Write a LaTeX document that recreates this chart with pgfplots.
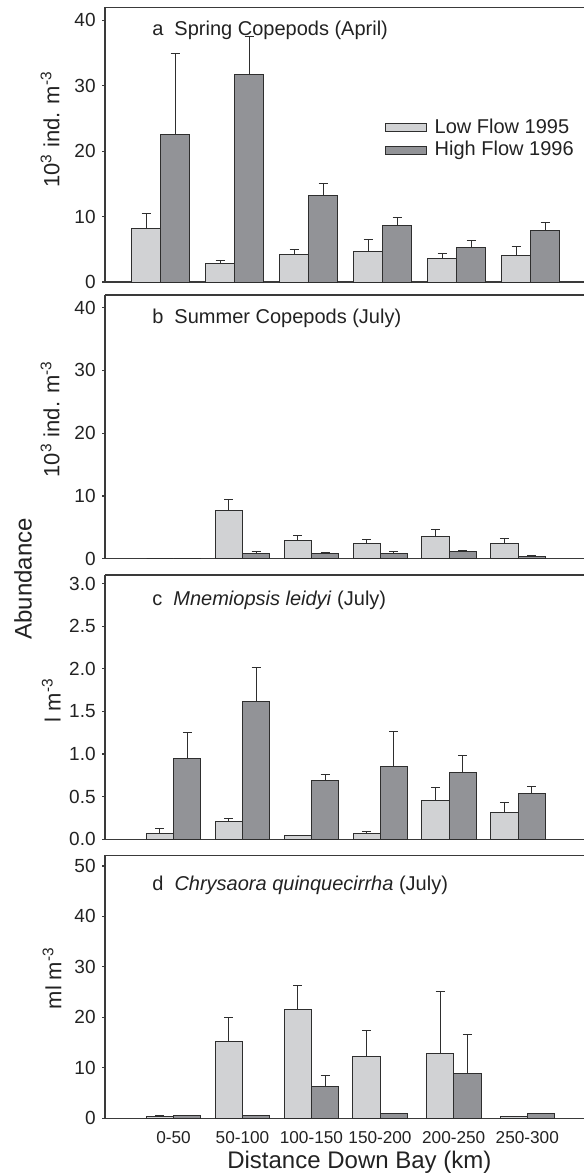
\documentclass[border=0pt]{standalone}
\usepackage{fontspec}
\setmainfont{Liberation Sans}
\usepackage{pgfplots}
\pgfplotsset{compat=1.18}
\usepackage{pgfplotstable}

\definecolor{lightbar}{HTML}{D1D2D4}
\definecolor{darkbar}{HTML}{929397}
\definecolor{edgecol}{HTML}{2E2E2E}
\definecolor{axiscol}{HTML}{3A3A3A}
\definecolor{txt}{HTML}{222222}

% x = position of the boundary between the two bars of a group (in picture pixels)
\pgfplotstableread{
x low lowe high highe
160.7 8.15 2.25 22.5 12.5
234.7 2.8 0.46 31.8 5.8
308.7 4.28 0.72 13.26 1.84
382.7 4.64 1.86 8.67 1.16
456.7 3.52 0.81 5.2 1.1
530.7 4.08 1.32 7.95 1.18
}\tabA
\pgfplotstableread{
x low lowe high highe
173.6 0 0 0 0
242.5 7.7 1.75 0.75 0.32
311.4 2.97 0.75 0.85 0.11
380.3 2.44 0.64 0.85 0.22
449.2 3.56 1.06 1.07 0.26
518.1 2.44 0.8 0.38 0.1
}\tabB
\pgfplotstableread{
x low lowe high highe
173.6 0.07 0.055 0.946 0.302
242.5 0.207 0.039 1.615 0.395
311.4 0.043 0.007 0.692 0.066
380.3 0.07 0.027 0.857 0.403
449.2 0.453 0.157 0.78 0.2
518.1 0.312 0.114 0.535 0.079
}\tabC
\pgfplotstableread{
x low lowe high highe
173.6 0.3 0.3 0.5 0
242.5 15.26 4.64 0.5 0
311.4 21.5 4.8 6.27 2.18
380.0 12.2 5.1 0.9 0
453.7 12.8 12.3 8.78 7.87
527.3 0.45 0 0.9 0
}\tabD

\pgfplotsset{
  panel/.style={
    scale only axis, width=239.5pt,
    xmin=105, xmax=584, ymin=0,
    axis lines=left,
    axis line style={-, line width=0.75pt, axiscol},
    tick align=outside, major tick length=1.5pt,
    tick style={line width=0.6pt, axiscol},
    xtick=\empty,
    /pgf/number format/assume math mode=true,
    yticklabel style={font=\fontsize{9.5}{11}\selectfont, text=txt, inner sep=0pt, xshift=-3pt},
    xticklabel style={font=\fontsize{8.6}{10}\selectfont, text=txt},
    ybar, bar shift=0pt, clip=false,
    after end axis/.code={\draw[line width=0.75pt, axiscol] (rel axis cs:0,1) -- (rel axis cs:1,1);},
  },
  ylab/.style={every axis y label/.style={at={(axis description cs:#1)}, rotate=90, anchor=base,
    font=\fontsize{11}{13}\selectfont, text=txt}},
  errs/.style={error bars/.cd, y dir=plus, y explicit,
    error bar style={line width=0.5pt, edgecol},
    error mark options={rotate=90, line width=0.5pt, mark size=2.25pt, edgecol}},
  lowbar/.style={fill=lightbar, draw=edgecol, line width=0.5pt, errs},
  highbar/.style={fill=darkbar, draw=edgecol, line width=0.5pt, errs},
}

\begin{document}
\begin{tikzpicture}
\path[use as bounding box] (0pt,0pt) rectangle (292pt,-588pt);

% ---------- a ----------
\begin{axis}[panel, at={(52.5pt,-141pt)}, anchor=south west, height=137.35pt,
  ymax=42, ytick={0,10,20,30,40}, bar width=29,
  ylab={-0.0952,0.555},
  ylabel={10\textsuperscript{3} ind. m\textsuperscript{-3}},
  legend cell align=left,
  legend image code/.code={\draw[#1] (0pt,-2pt) rectangle (20.7pt,2pt);},
  legend style={draw=none, fill=none, at={(axis cs:384.3,25.0)}, anchor=north west,
    inner sep=0pt, row sep=2.1pt, column sep=3.8pt,
    nodes={inner sep=0pt, text height=7.2pt, text depth=1.9pt},
    font=\fontsize{10}{12}\selectfont, text=txt},
]
\addplot[lowbar] table[x expr=\thisrow{x}-14.5, y=low, y error=lowe]{\tabA};
\addlegendentry{Low Flow 1995}
\addplot[highbar] table[x expr=\thisrow{x}+14.5, y=high, y error=highe]{\tabA};
\addlegendentry{High Flow 1996}
\node[anchor=base west, inner sep=0pt, font=\fontsize{10}{12}\selectfont, text=txt]
  at (rel axis cs:0.0981,0.898) {a\hspace{0.55em}Spring Copepods (April)};
\end{axis}

% ---------- b ----------
\begin{axis}[panel, at={(52.5pt,-279.35pt)}, anchor=south west, height=131.85pt,
  ymax=42, ytick={0,10,20,30,40}, bar width=27.3,
  ylab={-0.0952,0.53},
  ylabel={10\textsuperscript{3} ind. m\textsuperscript{-3}},
]
\addplot[lowbar] table[x expr=\thisrow{x}-13.65, y=low, y error=lowe]{\tabB};
\addplot[highbar] table[x expr=\thisrow{x}+13.65, y=high, y error=highe]{\tabB};
\node[anchor=base west, inner sep=0pt, font=\fontsize{10}{12}\selectfont, text=txt]
  at (rel axis cs:0.0981,0.893) {b\hspace{0.55em}Summer Copepods (July)};
\end{axis}

% ---------- c ----------
\begin{axis}[panel, at={(52.5pt,-419.65pt)}, anchor=south west, height=132.15pt,
  ymax=3.1, ytick={0,0.5,1,1.5,2,2.5,3}, bar width=27.3,
  yticklabel style={/pgf/number format/.cd, fixed, fixed zerofill, precision=1},
  ylab={-0.0925,0.527},
  ylabel={l m\textsuperscript{-3}},
]
\addplot[lowbar] table[x expr=\thisrow{x}-13.65, y=low, y error=lowe]{\tabC};
\addplot[highbar] table[x expr=\thisrow{x}+13.65, y=high, y error=highe]{\tabC};
\node[anchor=base west, inner sep=0pt, font=\fontsize{10}{12}\selectfont, text=txt]
  at (rel axis cs:0.0981,0.883) {c\hspace{0.55em}\textit{Mnemiopsis leidyi} (July)};
\end{axis}

% ---------- d ----------
\begin{axis}[panel, at={(52.5pt,-559.15pt)}, anchor=south west, height=131.5pt,
  ymax=52.1, ytick={0,10,20,30,40,50}, bar width=27.3,
  ylab={-0.091,0.533},
  ylabel={ml m\textsuperscript{-3}},
  xtick={173.6,242.5,311.4,380.0,453.7,527.3},
  xticklabels={0-50,50-100,100-150,150-200,200-250,250-300},
  xtick style={draw=none},
  xticklabel style={anchor=base, inner sep=0pt, yshift=-11.2pt},
  xlabel={Distance Down Bay (km)},
  xlabel style={at={(axis description cs:0.531,0)}, anchor=base, yshift=-25pt,
    font=\fontsize{12}{14}\selectfont, text=txt},
]
\addplot[lowbar] table[x expr=\thisrow{x}-13.65, y=low, y error=lowe]{\tabD};
\addplot[highbar] table[x expr=\thisrow{x}+13.65, y=high, y error=highe]{\tabD};
\node[anchor=base west, inner sep=0pt, font=\fontsize{10}{12}\selectfont, text=txt]
  at (rel axis cs:0.0981,0.868) {d\hspace{0.55em}\textit{Chrysaora quinquecirrha} (July)};
\end{axis}

\node[rotate=90, anchor=base, inner sep=0pt, font=\fontsize{12}{14}\selectfont, text=txt]
  at (15.85pt,-289.35pt) {Abundance};
\end{tikzpicture}
\end{document}
